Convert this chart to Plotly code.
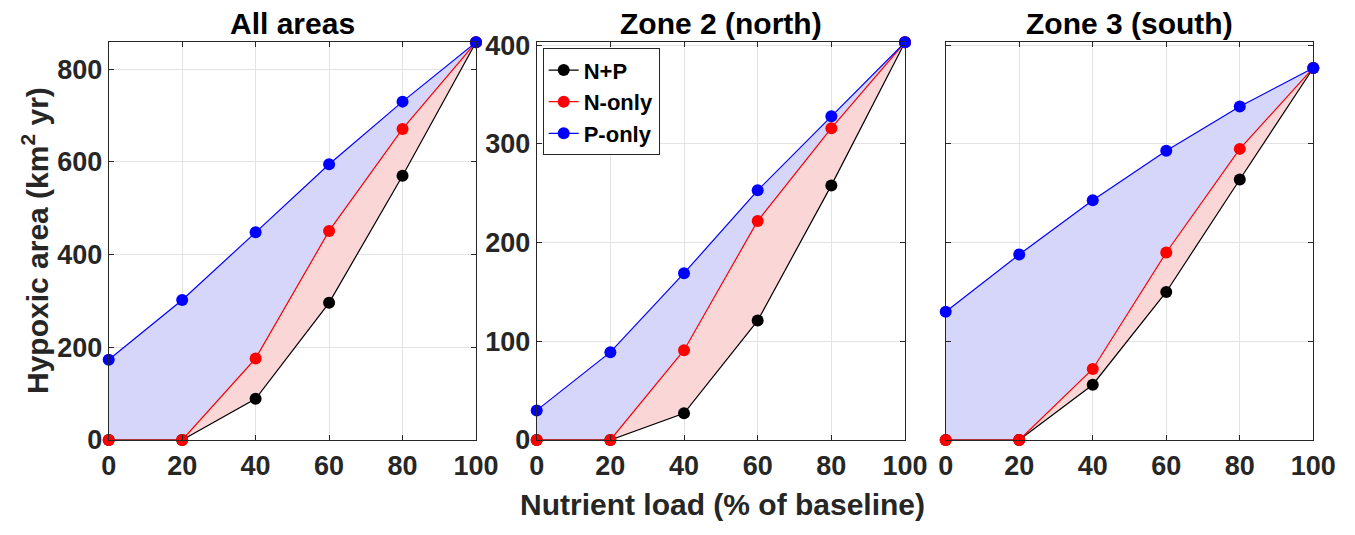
import plotly.graph_objects as go

x_load = [0, 20, 40, 60, 80, 100]

# All areas
all_np = [0, 0, 89, 296, 570, 858]
all_n = [0, 0, 176, 451, 671, 858]
all_p = [173, 302, 448, 595, 730, 858]

# Zone 2 (north)
z2_np = [0, 0, 27, 121, 258, 403]
z2_n = [0, 0, 91, 222, 316, 403]
z2_p = [30, 89, 169, 253, 328, 403]

# Zone 3 (south)
z3_np = [0, 0, 56, 150, 264, 377]
z3_n = [0, 0, 72, 190, 295, 377]
z3_p = [130, 188, 243, 293, 338, 377]

panel_titles = ["All areas", "Zone 2 (north)", "Zone 3 (south)"]
series_names = ["N+P", "N-only", "P-only"]
series_colors = ["#000000", "#FF0000", "#0000FF"]
x_ticks = [0, 20, 40, 60, 80, 100]
y_ticks_all = [0, 200, 400, 600, 800]
y_ticks_zone = [0, 100, 200, 300, 400]

W, H = 1355, 535
OFF = 8  # page body margin offset
FONT = "Liberation Sans, Arial, Helvetica, sans-serif"
TICKC = "#262626"


def px(v):
    return (v - OFF) / W


def py(v):
    return (H - (v - OFF)) / H


panels = [(all_np, all_n, all_p), (z2_np, z2_n, z2_p), (z3_np, z3_n, z3_p)]
xdom_px = [(108.7, 476.0), (536.7, 905.0), (945.7, 1313.3)]
ytop, ybot = 42.3, 440.0
ydom = [py(ybot), py(ytop)]

fig = go.Figure()

for i, (np_, n_, p_) in enumerate(panels):
    xa = "x" if i == 0 else f"x{i+1}"
    ya = "y" if i == 0 else f"y{i+1}"
    # fills
    fig.add_trace(go.Scatter(x=x_load, y=np_, mode="lines", line=dict(width=0),
                             showlegend=False, hoverinfo="skip", xaxis=xa, yaxis=ya))
    fig.add_trace(go.Scatter(x=x_load, y=n_, mode="lines", line=dict(width=0),
                             fill="tonexty", fillcolor="rgba(250,214,214,1)",
                             showlegend=False, hoverinfo="skip", xaxis=xa, yaxis=ya))
    fig.add_trace(go.Scatter(x=x_load, y=p_, mode="lines", line=dict(width=0),
                             fill="tonexty", fillcolor="rgba(214,214,250,1)",
                             showlegend=False, hoverinfo="skip", xaxis=xa, yaxis=ya))
    for vals, name, col in zip((np_, n_, p_), series_names, series_colors):
        fig.add_trace(go.Scatter(x=x_load, y=vals, mode="lines+markers", name=name,
                                 line=dict(color=col, width=1.2),
                                 marker=dict(color=col, size=12, line=dict(width=0)),
                                 cliponaxis=False, showlegend=(i == 1),
                                 xaxis=xa, yaxis=ya))

layout = dict(
    width=W, height=H, autosize=False,
    margin=dict(l=0, r=0, t=0, b=0, pad=0, autoexpand=False),
    paper_bgcolor="white", plot_bgcolor="white",
    font=dict(family=FONT, color=TICKC),
    showlegend=True,
    legend=dict(x=px(542.7), y=py(48.3), xanchor="left", yanchor="top",
                traceorder="normal",
                bgcolor="white", bordercolor="#262626", borderwidth=1,
                font=dict(family=FONT, size=22, color="#000000", weight="bold"),
                itemwidth=30, tracegroupgap=0),
)

annotations = []
for i in range(3):
    xk = "xaxis" if i == 0 else f"xaxis{i+1}"
    yk = "yaxis" if i == 0 else f"yaxis{i+1}"
    ya = "y" if i == 0 else f"y{i+1}"
    xa = "x" if i == 0 else f"x{i+1}"
    x0, x1 = xdom_px[i]
    common = dict(showline=True, linecolor="#262626", linewidth=1, mirror="ticks",
                  ticks="inside", ticklen=5, tickcolor="#262626",
                  showgrid=True, gridcolor="#E3E3E3", gridwidth=1, zeroline=False,
                  automargin=False,
                  tickfont=dict(family=FONT, size=27, color=TICKC, weight="bold"))
    layout[xk] = dict(domain=[px(x0), px(x1)], range=[0, 100], tickvals=x_ticks,
                      anchor=ya, ticklabelstandoff=2, **common)
    if i == 0:
        layout[yk] = dict(domain=ydom, range=[0, 858], tickvals=y_ticks_all,
                          anchor=xa, **common)
    else:
        layout[yk] = dict(domain=ydom, range=[0, 403], tickvals=y_ticks_zone,
                          anchor=xa, showticklabels=(i == 1), **common)
    annotations.append(dict(text=f"<b>{panel_titles[i]}</b>", x=px((x0 + x1) / 2),
                            y=py(23), xref="paper", yref="paper",
                            showarrow=False, xanchor="center", yanchor="middle",
                            font=dict(family=FONT, size=30, color="#000000")))

annotations.append(dict(text="<b>Nutrient load (% of baseline)</b>", x=px(722), y=py(504),
                        xref="paper", yref="paper", showarrow=False,
                        xanchor="center", yanchor="middle",
                        font=dict(family=FONT, size=30, color=TICKC)))
annotations.append(dict(text="<b>Hypoxic area (km<sup>2</sup> yr)</b>", x=px(35), y=py(241),
                        xref="paper", yref="paper", showarrow=False, textangle=-90,
                        xanchor="center", yanchor="middle",
                        font=dict(family=FONT, size=30, color=TICKC)))
layout["annotations"] = annotations

fig.update_layout(**layout)
fig.write_html("out.html")
